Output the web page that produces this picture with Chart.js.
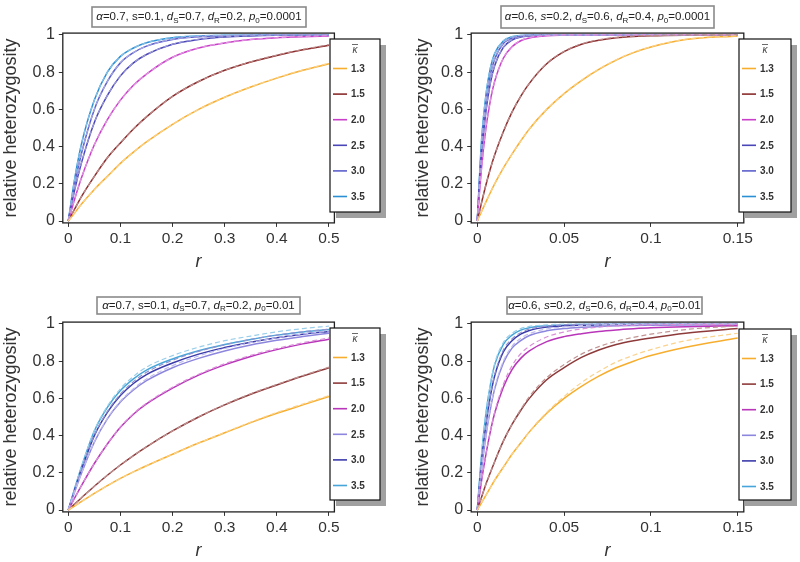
<!DOCTYPE html>
<html>
<head>
<meta charset="utf-8">
<script src="https://cdn.jsdelivr.net/npm/chart.js@4.4.1/dist/chart.umd.min.js"></script>
<style>
  body { margin: 0; background: #fff; width: 800px; height: 562px; position: relative; overflow: hidden; }
  canvas { position: absolute; }
</style>
</head>
<body>
<canvas id="tl" width="400" height="281" style="left:0;top:0"></canvas>
<canvas id="tr" width="400" height="281" style="left:400px;top:0"></canvas>
<canvas id="bl" width="400" height="281" style="left:0;top:281px"></canvas>
<canvas id="br" width="400" height="281" style="left:400px;top:281px"></canvas>
<script>
// kappa-bar values (legend)
const kappaLabels = ['1.3', '1.5', '2.0', '2.5', '3.0', '3.5'];

// r grids
const rWide = [0, 0.0125, 0.025, 0.05, 0.075, 0.1, 0.125, 0.15, 0.2, 0.25, 0.3, 0.35, 0.4, 0.45, 0.5];
const rNarrow = [0, 0.0025, 0.005, 0.0075, 0.01, 0.015, 0.02, 0.025, 0.03, 0.04, 0.05, 0.06, 0.07, 0.08, 0.09, 0.1, 0.12, 0.15];

const ticksWide = [0, 0.1, 0.2, 0.3, 0.4, 0.5];
const ticksNarrow = [0, 0.05, 0.1, 0.15];
const yTicks = [0, 0.2, 0.4, 0.6, 0.8, 1];

// top-left: alpha=0.7, s=0.1, dS=0.7, dR=0.2, p0=0.0001
const tlSolid = [
  [0, 0.045, 0.09, 0.17, 0.24, 0.31, 0.37, 0.425, 0.52, 0.60, 0.665, 0.72, 0.768, 0.81, 0.845],
  [0, 0.066, 0.13, 0.24, 0.34, 0.42, 0.495, 0.56, 0.67, 0.75, 0.81, 0.855, 0.89, 0.92, 0.945],
  [0, 0.12, 0.23, 0.41, 0.545, 0.65, 0.73, 0.79, 0.88, 0.93, 0.957, 0.975, 0.985, 0.99, 0.995],
  [0, 0.17, 0.31, 0.53, 0.675, 0.78, 0.85, 0.895, 0.95, 0.976, 0.989, 0.995, 0.998, 0.999, 1],
  [0, 0.2, 0.36, 0.6, 0.75, 0.85, 0.905, 0.94, 0.976, 0.99, 0.996, 0.998, 0.999, 1, 1],
  [0, 0.23, 0.41, 0.65, 0.8, 0.885, 0.93, 0.958, 0.985, 0.994, 0.998, 0.999, 1, 1, 1]
];
const tlDashed = [
  [0, 0.045, 0.09, 0.17, 0.24, 0.31, 0.37, 0.425, 0.52, 0.60, 0.665, 0.721, 0.77, 0.812, 0.848],
  [0, 0.066, 0.13, 0.24, 0.34, 0.42, 0.495, 0.56, 0.67, 0.75, 0.81, 0.856, 0.892, 0.922, 0.948],
  [0, 0.12, 0.23, 0.41, 0.545, 0.65, 0.73, 0.79, 0.88, 0.93, 0.958, 0.976, 0.986, 0.992, 0.996],
  [0, 0.17, 0.31, 0.53, 0.675, 0.78, 0.85, 0.895, 0.95, 0.977, 0.99, 0.996, 0.999, 1, 1],
  [0, 0.2, 0.36, 0.6, 0.75, 0.85, 0.905, 0.94, 0.977, 0.991, 0.997, 0.999, 1, 1, 1],
  [0, 0.23, 0.41, 0.65, 0.8, 0.885, 0.93, 0.958, 0.986, 0.995, 0.999, 1, 1, 1, 1]
];

// top-right: alpha=0.6, s=0.2, dS=0.6, dR=0.4, p0=0.0001
const trSolid = [
  [0, 0.052, 0.103, 0.152, 0.2, 0.285, 0.36, 0.43, 0.495, 0.6, 0.685, 0.755, 0.815, 0.865, 0.905, 0.935, 0.975, 0.995],
  [0, 0.1, 0.195, 0.28, 0.355, 0.48, 0.585, 0.67, 0.74, 0.845, 0.91, 0.95, 0.972, 0.985, 0.992, 0.996, 0.999, 1],
  [0, 0.29, 0.5, 0.646, 0.75, 0.875, 0.937, 0.969, 0.984, 0.996, 0.999, 1, 1, 1, 1, 1, 1, 1],
  [0, 0.36, 0.59, 0.74, 0.835, 0.933, 0.973, 0.989, 0.995, 0.999, 1, 1, 1, 1, 1, 1, 1, 1],
  [0, 0.4, 0.64, 0.785, 0.87, 0.954, 0.983, 0.994, 0.998, 1, 1, 1, 1, 1, 1, 1, 1, 1],
  [0, 0.44, 0.68, 0.82, 0.9, 0.968, 0.99, 0.997, 0.999, 1, 1, 1, 1, 1, 1, 1, 1, 1]
];
const trDashed = [
  [0, 0.052, 0.103, 0.152, 0.2, 0.285, 0.36, 0.43, 0.495, 0.6, 0.686, 0.757, 0.817, 0.867, 0.907, 0.937, 0.977, 0.996],
  [0, 0.1, 0.195, 0.28, 0.355, 0.48, 0.585, 0.67, 0.741, 0.847, 0.912, 0.952, 0.974, 0.987, 0.994, 0.997, 1, 1],
  [0, 0.29, 0.5, 0.646, 0.75, 0.876, 0.938, 0.97, 0.986, 0.997, 1, 1, 1, 1, 1, 1, 1, 1],
  [0, 0.36, 0.59, 0.74, 0.835, 0.934, 0.974, 0.99, 0.996, 1, 1, 1, 1, 1, 1, 1, 1, 1],
  [0, 0.4, 0.64, 0.785, 0.87, 0.955, 0.984, 0.995, 0.999, 1, 1, 1, 1, 1, 1, 1, 1, 1],
  [0, 0.44, 0.68, 0.82, 0.9, 0.969, 0.991, 0.998, 1, 1, 1, 1, 1, 1, 1, 1, 1, 1]
];

// bottom-left: alpha=0.7, s=0.1, dS=0.7, dR=0.2, p0=0.01
const blSolid = [
  [0, 0.023, 0.045, 0.089, 0.131, 0.17, 0.205, 0.238, 0.3, 0.36, 0.415, 0.47, 0.52, 0.565, 0.61],
  [0, 0.033, 0.065, 0.128, 0.187, 0.242, 0.293, 0.34, 0.425, 0.5, 0.565, 0.622, 0.672, 0.72, 0.765],
  [0, 0.066, 0.13, 0.25, 0.355, 0.445, 0.515, 0.57, 0.655, 0.725, 0.78, 0.825, 0.862, 0.893, 0.918],
  [0, 0.1, 0.195, 0.365, 0.49, 0.58, 0.645, 0.695, 0.765, 0.815, 0.855, 0.887, 0.912, 0.932, 0.95],
  [0, 0.11, 0.215, 0.4, 0.525, 0.615, 0.68, 0.728, 0.79, 0.838, 0.873, 0.902, 0.926, 0.945, 0.96],
  [0, 0.118, 0.23, 0.425, 0.552, 0.642, 0.705, 0.752, 0.812, 0.856, 0.89, 0.917, 0.94, 0.957, 0.97]
];
const blDashed = [
  [0, 0.023, 0.045, 0.089, 0.131, 0.17, 0.205, 0.238, 0.3, 0.36, 0.417, 0.473, 0.524, 0.57, 0.615],
  [0, 0.033, 0.065, 0.128, 0.187, 0.242, 0.293, 0.34, 0.425, 0.501, 0.567, 0.625, 0.675, 0.723, 0.768],
  [0, 0.066, 0.13, 0.25, 0.356, 0.447, 0.518, 0.574, 0.66, 0.73, 0.786, 0.831, 0.868, 0.899, 0.925],
  [0, 0.1, 0.195, 0.366, 0.493, 0.585, 0.652, 0.704, 0.776, 0.828, 0.868, 0.9, 0.926, 0.946, 0.962],
  [0, 0.11, 0.215, 0.402, 0.53, 0.622, 0.69, 0.74, 0.805, 0.853, 0.888, 0.917, 0.94, 0.958, 0.972],
  [0, 0.118, 0.23, 0.428, 0.558, 0.652, 0.718, 0.768, 0.83, 0.875, 0.91, 0.935, 0.958, 0.975, 0.988]
];

// bottom-right: alpha=0.6, s=0.2, dS=0.6, dR=0.4, p0=0.01
const brSolid = [
  [0, 0.04, 0.08, 0.12, 0.16, 0.23, 0.3, 0.36, 0.42, 0.52, 0.6, 0.665, 0.72, 0.765, 0.8, 0.83, 0.875, 0.925],
  [0, 0.07, 0.14, 0.2, 0.26, 0.37, 0.46, 0.535, 0.6, 0.7, 0.765, 0.82, 0.86, 0.89, 0.91, 0.925, 0.95, 0.975],
  [0, 0.16, 0.3, 0.42, 0.52, 0.66, 0.755, 0.815, 0.855, 0.905, 0.932, 0.948, 0.96, 0.968, 0.974, 0.979, 0.985, 0.99],
  [0, 0.22, 0.4, 0.54, 0.65, 0.79, 0.87, 0.91, 0.938, 0.963, 0.975, 0.982, 0.987, 0.99, 0.992, 0.993, 0.995, 0.996],
  [0, 0.26, 0.46, 0.61, 0.72, 0.85, 0.91, 0.945, 0.965, 0.983, 0.99, 0.993, 0.995, 0.996, 0.997, 0.998, 0.998, 0.999],
  [0, 0.3, 0.52, 0.67, 0.78, 0.89, 0.94, 0.967, 0.98, 0.99, 0.995, 0.997, 0.998, 0.999, 1, 1, 1, 1]
];
const brDashed = [
  [0, 0.04, 0.08, 0.12, 0.16, 0.23, 0.3, 0.36, 0.422, 0.525, 0.61, 0.685, 0.745, 0.795, 0.832, 0.862, 0.91, 0.95],
  [0, 0.07, 0.14, 0.2, 0.26, 0.37, 0.46, 0.54, 0.61, 0.712, 0.782, 0.838, 0.878, 0.907, 0.928, 0.945, 0.97, 0.99],
  [0, 0.16, 0.3, 0.42, 0.525, 0.675, 0.775, 0.84, 0.88, 0.93, 0.957, 0.973, 0.983, 0.989, 0.993, 0.995, 0.997, 0.998],
  [0, 0.22, 0.4, 0.545, 0.657, 0.8, 0.88, 0.923, 0.948, 0.973, 0.985, 0.991, 0.995, 0.997, 0.998, 0.999, 1, 1],
  [0, 0.26, 0.46, 0.615, 0.727, 0.86, 0.92, 0.953, 0.972, 0.988, 0.995, 0.998, 1, 1, 1, 1, 1, 1],
  [0, 0.3, 0.52, 0.675, 0.787, 0.9, 0.95, 0.975, 0.987, 0.995, 0.999, 1, 1, 1, 1, 1, 1, 1]
];

const colorsTop = ['#f7ae2e', '#8b2c2c', '#c93fc9', '#4a46b8', '#5d5fcc', '#2b8fd3'];
const colorsBottom = ['#f7ae2e', '#8e3a3a', '#b935b9', '#8c86de', '#3b3bab', '#47a6d9'];

const titleTL = [['α', 'i'], ['=0.7, s=0.1, ', 'n'], ['d', 'i'], ['S', 's'], ['=0.7, ', 'n'], ['d', 'i'], ['R', 's'], ['=0.2, ', 'n'], ['p', 'i'], ['0', 's'], ['=0.0001', 'n']];
const titleTR = [['α', 'i'], ['=0.6, ', 'n'], ['s', 'i'], ['=0.2, ', 'n'], ['d', 'i'], ['S', 's'], ['=0.6, ', 'n'], ['d', 'i'], ['R', 's'], ['=0.4, ', 'n'], ['p', 'i'], ['0', 's'], ['=0.0001', 'n']];
const titleBL = [['α', 'i'], ['=0.7, s=0.1, ', 'n'], ['d', 'i'], ['S', 's'], ['=0.7, ', 'n'], ['d', 'i'], ['R', 's'], ['=0.2, ', 'n'], ['p', 'i'], ['0', 's'], ['=0.01', 'n']];
const titleBR = [['α', 'i'], ['=0.6, ', 'n'], ['s', 'i'], ['=0.2, ', 'n'], ['d', 'i'], ['S', 's'], ['=0.6, ', 'n'], ['d', 'i'], ['R', 's'], ['=0.4, ', 'n'], ['p', 'i'], ['0', 's'], ['=0.01', 'n']];

const FONT = '"Liberation Sans", Arial, Helvetica, sans-serif';

function lighten(hex, f) {
  const n = parseInt(hex.slice(1), 16);
  const mix = c => Math.round(c + (255 - c) * f);
  return `rgb(${mix(n >> 16)},${mix((n >> 8) & 255)},${mix(n & 255)})`;
}

function drawRich(ctx, parts, cx, cy, size) {
  const fontFor = st => (st === 'i' ? 'italic ' : '') + (st === 's' ? Math.round(size * 0.72) : size) + 'px ' + FONT;
  let w = 0;
  parts.forEach(([t, st]) => { ctx.font = fontFor(st); w += ctx.measureText(t).width; });
  let x = cx - w / 2;
  ctx.textAlign = 'left';
  ctx.textBaseline = 'middle';
  ctx.fillStyle = '#222';
  parts.forEach(([t, st]) => {
    ctx.font = fontFor(st);
    ctx.fillText(t, x, cy + (st === 's' ? size * 0.3 : 0));
    x += ctx.measureText(t).width;
  });
}

// frame, parameter box and legend box
const decorations = {
  id: 'decorations',
  afterDraw(chart) {
    const o = chart.options.plugins.decorations;
    const {ctx, chartArea: a} = chart;
    ctx.save();
    ctx.strokeStyle = '#222';
    ctx.lineWidth = 1.3;
    ctx.strokeRect(a.left, a.top, a.right - a.left, a.bottom - a.top);

    // parameter box
    const t = o.titleBox;
    ctx.fillStyle = '#fff';
    ctx.fillRect(t.x, t.y, t.w, t.h);
    ctx.strokeStyle = '#8a8a8a';
    ctx.lineWidth = 1.6;
    ctx.strokeRect(t.x, t.y, t.w, t.h);
    drawRich(ctx, o.title, t.x + t.w / 2, t.y + t.h / 2, 11.5);

    // legend
    const L = o.legendBox;
    ctx.fillStyle = '#a0a0a0';
    ctx.fillRect(L.x + 6, L.y + 6, L.w, L.h);
    ctx.fillStyle = '#fff';
    ctx.fillRect(L.x, L.y, L.w, L.h);
    ctx.strokeStyle = '#111';
    ctx.lineWidth = 1.2;
    ctx.strokeRect(L.x, L.y, L.w, L.h);
    ctx.fillStyle = '#444';
    ctx.font = 'italic 10px ' + FONT;
    ctx.textAlign = 'center';
    ctx.textBaseline = 'middle';
    const kx = L.x + L.w / 2, ky = L.y + 11;
    ctx.fillText('κ', kx, ky);
    ctx.beginPath();
    ctx.lineWidth = 0.8;
    ctx.strokeStyle = '#444';
    ctx.moveTo(kx - 3, ky - 5.5);
    ctx.lineTo(kx + 3, ky - 5.5);
    ctx.stroke();
    kappaLabels.forEach((lab, i) => {
      const y = L.y + 29.5 + i * 25.6;
      ctx.beginPath();
      ctx.strokeStyle = o.colors[i];
      ctx.lineWidth = 1.6;
      ctx.moveTo(L.x + 3, y);
      ctx.lineTo(L.x + 17, y);
      ctx.stroke();
      ctx.fillStyle = '#333';
      ctx.font = 'bold 10px ' + FONT;
      ctx.textAlign = 'left';
      ctx.fillText(lab, L.x + 21, y + 0.5);
    });
    ctx.restore();
  }
};

function makePanel(id, p) {
  const datasets = [];
  p.dashed.forEach((vals, i) => datasets.push({
    data: p.r.map((x, j) => ({x, y: vals[j]})),
    borderColor: lighten(p.colors[i], 0.45),
    borderWidth: 1.2,
    borderDash: [5, 3]
  }));
  p.solid.forEach((vals, i) => datasets.push({
    data: p.r.map((x, j) => ({x, y: vals[j]})),
    borderColor: p.colors[i],
    borderWidth: 1.5
  }));

  new Chart(document.getElementById(id), {
    type: 'line',
    data: {datasets},
    options: {
      responsive: false,
      animation: false,
      events: [],
      elements: {point: {radius: 0}, line: {cubicInterpolationMode: 'monotone'}},
      layout: {padding: {left: 0, top: p.top, right: 400 - p.right, bottom: 281 - p.bottom - 50}},
      plugins: {
        legend: {display: false},
        tooltip: {enabled: false},
        decorations: {title: p.title, titleBox: p.titleBox, legendBox: p.legendBox, colors: p.colors}
      },
      scales: {
        x: {
          type: 'linear',
          min: p.xMin, max: p.xMax,
          afterFit: s => { s.height = 50; },
          afterBuildTicks: s => { s.ticks = p.xTicks.map(v => ({value: v})); },
          grid: {drawOnChartArea: false, drawTicks: true, tickLength: 4, color: '#333', lineWidth: 1},
          border: {display: false},
          ticks: {color: '#333', padding: 3, font: {family: FONT, size: 15.5}, maxRotation: 0, callback: v => String(v)},
          title: {display: true, text: 'r', color: '#333', padding: {top: 0, bottom: 0}, font: {family: FONT, size: 18, style: 'italic'}}
        },
        y: {
          type: 'linear',
          min: -0.01, max: 1.01,
          afterFit: s => { s.width = p.left; },
          afterBuildTicks: s => { s.ticks = yTicks.map(v => ({value: v})); },
          grid: {drawOnChartArea: false, drawTicks: true, tickLength: 4, color: '#333', lineWidth: 1},
          border: {display: false},
          ticks: {color: '#333', padding: 4, font: {family: FONT, size: 16}, callback: v => String(v)},
          title: {display: true, text: 'relative heterozygosity', color: '#333', padding: {top: p.yTitlePad, bottom: 0}, font: {family: FONT, size: 18}}
        }
      }
    },
    plugins: [decorations]
  });
}

makePanel('tl', {
  r: rWide, solid: tlSolid, dashed: tlDashed, colors: colorsTop, title: titleTL,
  xMin: -0.0105, xMax: 0.5105, xTicks: ticksWide,
  left: 62.8, right: 334.4, top: 33.1, bottom: 222.9, yTitlePad: 0.5,
  titleBox: {x: 92, y: 7, w: 214, h: 20},
  legendBox: {x: 330, y: 39, w: 50, h: 173}
});
makePanel('tr', {
  r: rNarrow, solid: trSolid, dashed: trDashed, colors: colorsTop, title: titleTR,
  xMin: -0.0035, xMax: 0.1535, xTicks: ticksNarrow,
  left: 71.2, right: 343.8, top: 33.1, bottom: 222.9, yTitlePad: 12,
  titleBox: {x: 101, y: 6, w: 213, h: 22},
  legendBox: {x: 339, y: 39, w: 52, h: 173}
});
makePanel('bl', {
  r: rWide, solid: blSolid, dashed: blDashed, colors: colorsBottom, title: titleBL,
  xMin: -0.0105, xMax: 0.5105, xTicks: ticksWide,
  left: 62.8, right: 334.4, top: 41.1, bottom: 230.9, yTitlePad: 0.5,
  titleBox: {x: 97, y: 16, w: 203, h: 17},
  legendBox: {x: 330, y: 47, w: 50, h: 172}
});
makePanel('br', {
  r: rNarrow, solid: brSolid, dashed: brDashed, colors: colorsBottom, title: titleBR,
  xMin: -0.0035, xMax: 0.1535, xTicks: ticksNarrow,
  left: 71.2, right: 343.8, top: 41.1, bottom: 230.9, yTitlePad: 12,
  titleBox: {x: 107, y: 16, w: 195, h: 17},
  legendBox: {x: 339, y: 48, w: 52, h: 171}
});
</script>
</body>
</html>
